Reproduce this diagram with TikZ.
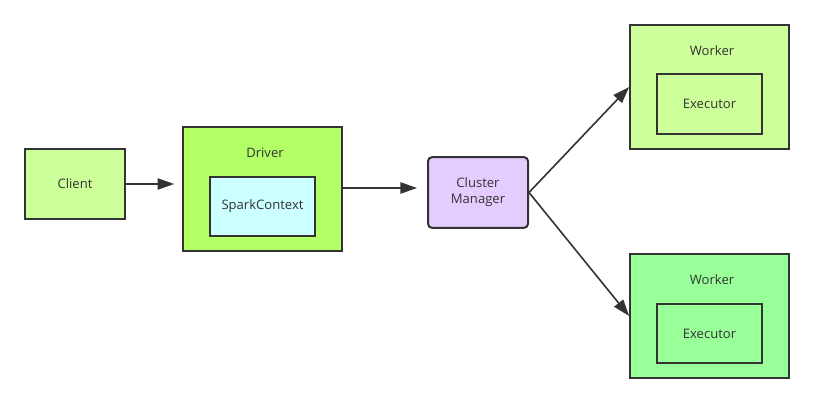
\documentclass[tikz,border=0pt]{standalone}
\usepackage{fontspec}
\setmainfont{Open Sans}
\usetikzlibrary{arrows.meta}
\definecolor{edgegray}{HTML}{333333}
\definecolor{clientgreen}{HTML}{CCFF99}
\definecolor{drivergreen}{HTML}{B3FF66}
\definecolor{ctxcyan}{HTML}{CCFFFF}
\definecolor{cmpurple}{HTML}{E5CCFF}
\definecolor{workergreen}{HTML}{99FF99}
\begin{document}
\begin{tikzpicture}[x=0.75pt,y=-0.75pt,
	box/.style={shape=rectangle,draw=edgegray,line width=1.5pt,inner sep=0pt,text=edgegray,font=\fontsize{9.8}{12}\selectfont},
	lbl/.style={text=edgegray,font=\fontsize{9.8}{12}\selectfont},
	link/.style={draw=edgegray,line width=1.2pt,-{Triangle[length=12.5pt,width=8.5pt]}}]
	\useasboundingbox (0,0) rectangle (814,403);
	
	\node[box,fill=clientgreen,minimum width=75pt,minimum height=52.5pt] (client) at (75, 184) {Client};
	\node[box,fill=drivergreen,minimum width=119pt,minimum height=93pt] (driver) at (262.5, 189) {};
	\node[lbl] (driverlbl) at (265, 153) {Driver};
	\node[box,fill=ctxcyan,minimum width=78.75pt,minimum height=44.25pt] (ctx) at (262.5, 206.5) {SparkContext};
	\node[box,fill=cmpurple,rounded corners=3pt,minimum width=75pt,minimum height=53pt,align=center] (cm) at (478, 192.5) {Cluster\\Manager};
	\node[box,fill=clientgreen,minimum width=119pt,minimum height=93pt] (w1) at (709.5, 87) {};
	\node[lbl] (w1lbl) at (712, 51) {Worker};
	\node[box,fill=clientgreen,minimum width=78.75pt,minimum height=45pt] (ex1) at (709.5, 104) {Executor};
	\node[box,fill=workergreen,minimum width=119pt,minimum height=93pt] (w2) at (709.5, 316) {};
	\node[lbl] (w2lbl) at (712, 280) {Worker};
	\node[box,fill=workergreen,minimum width=78.75pt,minimum height=44.25pt] (ex2) at (709.5, 333.5) {Executor};
	\path (client.east) edge[link,shorten >=6pt] (client.east -| driver.west);
	\path (driver.east |- 0,188) edge[link,shorten >=7.5pt] (cm.west |- 0,188);
	\path (cm.east) edge[link] (w1.west);
	\path (cm.east) edge[link] (w2.west);
\end{tikzpicture}
\end{document}
